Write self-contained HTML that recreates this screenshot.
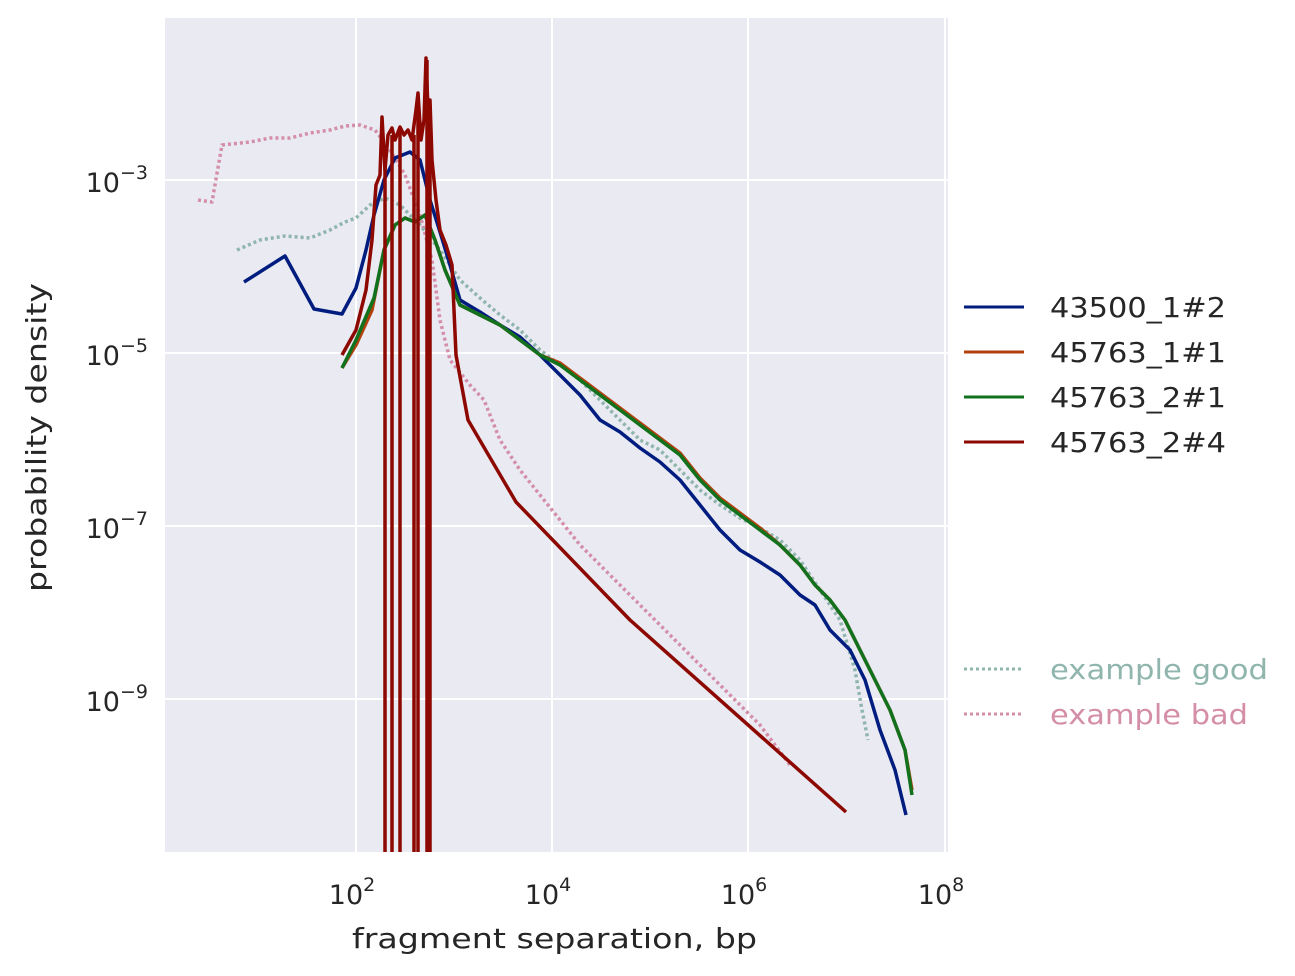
<!DOCTYPE html>
<html><head><meta charset="utf-8"><style>
html,body{margin:0;padding:0;background:#fff}
svg{display:block;font-family:"DejaVu Sans","Liberation Sans",sans-serif}
</style></head><body>
<svg width="1295" height="976" viewBox="0 0 1295 976">
<rect x="165" y="18" width="783" height="834" fill="#eaeaf2"/>
<g stroke="#fff" stroke-width="2">
<line x1="356" y1="18" x2="356" y2="852"/><line x1="552" y1="18" x2="552" y2="852"/>
<line x1="748" y1="18" x2="748" y2="852"/><line x1="945" y1="18" x2="945" y2="852"/>
<line x1="165" y1="180" x2="948" y2="180"/><line x1="165" y1="353" x2="948" y2="353"/>
<line x1="165" y1="526" x2="948" y2="526"/><line x1="165" y1="699" x2="948" y2="699"/>
</g>
<g fill="none" stroke-width="3.5" stroke-linejoin="round">
<polyline stroke="#d48ea8" stroke-dasharray="3,3" points="198,200 212,202 222,145 250,142 270,138 290,138 310,133 330,130 345,126 360,125 375,130 390,150 405,175 420,215 432,260 440,320 450,360 470,385 484,400 500,440 520,470 540,495 560,520 580,545 600,565 620,585 640,605 660,625 680,645 700,665 720,685 740,705 760,725 790,765"/>
<polyline stroke="#8fb5ad" stroke-dasharray="3,3" points="237,250 260,240 285,236 310,238 330,230 345,222 356,218 370,205 385,198 400,205 420,225 440,250 460,280 480,298 500,315 520,330 540,350 560,365 580,380 600,400 620,420 640,440 660,450 680,470 700,490 720,505 740,518 760,528 780,540 800,560 820,590 840,620 855,670 862,710 868,740"/>
<polyline stroke="#001c7f" points="244,282 285,256 314,309 342,314 356,288 366,250 374,215 384,180 395,158 410,152 420,160 430,200 440,232 450,265 460,300 480,312 500,325 520,337 540,355 560,375 580,395 600,420 620,432 640,448 660,462 680,480 700,505 720,530 740,550 760,562 780,575 800,595 815,605 830,630 850,650 865,680 880,730 895,770 906,815"/>
<polyline stroke="#b1400d" points="342,368 356,345 372,310 384,250 395,225 405,218 415,222 425,215 435,240 445,270 460,305 480,315 500,325 520,340 540,355 560,363 580,378 600,393 620,408 640,423 660,438 680,453 700,478 720,498 740,513 760,528 780,545 800,565 815,585 830,600 845,620 860,650 875,680 890,710 905,750 912,790"/>
<polyline stroke="#12711c" points="342,368 356,340 374,298 384,250 395,225 405,218 415,222 425,215 435,240 445,270 460,305 480,315 500,325 520,340 540,355 560,365 580,380 600,395 620,410 640,425 660,440 680,455 700,480 720,500 740,515 760,530 780,545 800,565 815,585 830,600 845,620 860,650 875,680 890,710 905,750 912,795"/>
<polyline stroke="#8c0800" points="342,355 356,330 366,290 372,240 376,185 380,175 382,117 385,170 388,135 392,128 395,140 400,127 404,135 408,130 412,140 416,110 418,93 421,140 424,120 426,58 428,110 430,100 432,160 436,200 440,230 446,245 452,265 456,355 468,420 516,502 630,620 846,812"/>
<g stroke="#8c0800">
<line x1="385" y1="150" x2="385" y2="852"/><line x1="392" y1="135" x2="392" y2="852"/>
<line x1="400" y1="130" x2="400" y2="852"/><line x1="414" y1="135" x2="414" y2="852"/>
<line x1="418" y1="95" x2="418" y2="852"/><line x1="427" y1="60" x2="427" y2="852"/>
<line x1="430" y1="105" x2="430" y2="852"/>
</g>
</g>
<g fill="#262626" font-size="27">
<text x="352" y="904" text-anchor="middle">10<tspan dy="-13" font-size="19">2</tspan></text>
<text x="548" y="904" text-anchor="middle">10<tspan dy="-13" font-size="19">4</tspan></text>
<text x="744" y="904" text-anchor="middle">10<tspan dy="-13" font-size="19">6</tspan></text>
<text x="941" y="904" text-anchor="middle">10<tspan dy="-13" font-size="19">8</tspan></text>
<text x="148" y="192" text-anchor="end">10<tspan dy="-13" font-size="19">−3</tspan></text>
<text x="148" y="365" text-anchor="end">10<tspan dy="-13" font-size="19">−5</tspan></text>
<text x="148" y="538" text-anchor="end">10<tspan dy="-13" font-size="19">−7</tspan></text>
<text x="148" y="711" text-anchor="end">10<tspan dy="-13" font-size="19">−9</tspan></text>
<text x="352" y="948" font-size="28" textLength="405" lengthAdjust="spacingAndGlyphs">fragment separation, bp</text>
<text transform="translate(46,592) rotate(-90)" font-size="28" textLength="309" lengthAdjust="spacingAndGlyphs">probability density</text>
<g font-size="28">
<text x="1050" y="317" textLength="176" lengthAdjust="spacingAndGlyphs">43500_1#2</text>
<text x="1050" y="362" textLength="176" lengthAdjust="spacingAndGlyphs">45763_1#1</text>
<text x="1050" y="407" textLength="176" lengthAdjust="spacingAndGlyphs">45763_2#1</text>
<text x="1050" y="452" textLength="176" lengthAdjust="spacingAndGlyphs">45763_2#4</text>
<text x="1050" y="679" fill="#8fb5ad" textLength="218" lengthAdjust="spacingAndGlyphs">example good</text>
<text x="1050" y="724" fill="#d48ea8" textLength="198" lengthAdjust="spacingAndGlyphs">example bad</text>
</g>
</g>
<g stroke-width="3">
<line x1="964" y1="307" x2="1024" y2="307" stroke="#001c7f"/>
<line x1="964" y1="352" x2="1024" y2="352" stroke="#b1400d"/>
<line x1="964" y1="397" x2="1024" y2="397" stroke="#12711c"/>
<line x1="964" y1="442" x2="1024" y2="442" stroke="#8c0800"/>
<line x1="964" y1="669" x2="1024" y2="669" stroke="#8fb5ad" stroke-dasharray="3,3"/>
<line x1="964" y1="714" x2="1024" y2="714" stroke="#d48ea8" stroke-dasharray="3,3"/>
</g>
</svg>
</body></html>
